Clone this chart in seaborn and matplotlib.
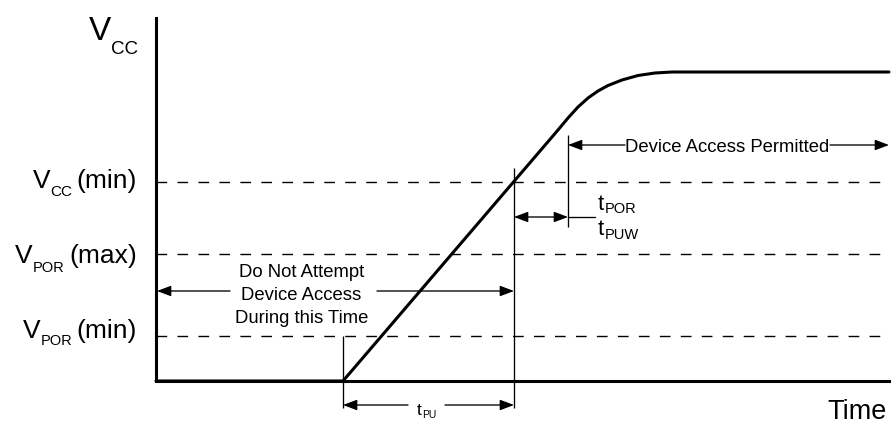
import matplotlib
matplotlib.use("Agg")
import matplotlib.pyplot as plt
import seaborn as sns
from matplotlib.patches import ArrowStyle
from matplotlib.transforms import IdentityTransform

# ---------------- data (arbitrary units: time ticks / voltage ticks) ----------------
time_pts = [0, 187, 402, 412, 422, 432, 442, 452, 466, 482, 499, 516, 733]
vcc_pts = [0, 0, 251, 263, 274, 283, 290, 295.5, 301, 305.5, 308, 309, 309]

level_names = ["Vcc(min)", "Vpor(max)", "Vpor(min)"]
level_values = [199, 127, 45]

t_ramp_start = 187   # Vcc begins to rise
t_pu_end = 358       # Vcc reaches Vcc(min)
t_por_end = 412      # end of tPOR / tPUW

x_max, y_max = 733, 363

# ---------------- figure ----------------
sns.set_theme(style="white")
plt.rcParams["font.family"] = ["Liberation Sans", "DejaVu Sans"]
INK = "black"

W, H = 891, 434
fig = plt.figure(figsize=(W / 100, H / 100), dpi=100)
fig.patch.set_facecolor("white")
ax = fig.add_axes([156 / W, (H - 381) / H, (889 - 156) / W, (381 - 18) / H])
ax.set_xlim(0, x_max)
ax.set_ylim(0, y_max)
ax.set_xticks([])
ax.set_yticks([])
ax.set_facecolor("white")
for s in ["top", "right"]:
    ax.spines[s].set_visible(False)
for s in ["left", "bottom"]:
    ax.spines[s].set_linewidth(2.2)
    ax.spines[s].set_color(INK)
    ax.spines[s].set_capstyle("projecting")

# dashed threshold levels
for lv in level_values:
    ax.axhline(lv, color=INK, lw=1.0, ls=(0, (7.7, 7.4)), zorder=1)

# Vcc trace
sns.lineplot(x=time_pts, y=vcc_pts, color=INK, lw=2.2, ax=ax, sort=False,
             estimator=None, zorder=3, clip_on=False)

# vertical markers
vl = dict(color=INK, lw=0.95, clip_on=False, zorder=2)
ax.vlines(t_ramp_start, -27, level_values[2], **vl)
ax.vlines(t_pu_end, -27, 213, **vl)
ax.vlines(t_por_end, 154, 246, **vl)

# arrows
def arrow(x_from, x_to, y, style="-|>"):
    ast = ArrowStyle(style, head_length=0.85, head_width=0.32)
    ax.annotate("", xy=(x_to, y), xytext=(x_from, y),
                arrowprops=dict(arrowstyle=ast, color=INK, lw=0.95,
                                shrinkA=0, shrinkB=0, mutation_scale=10),
                annotation_clip=False)

y_dna = 90
arrow(74, 1, y_dna)
arrow(221, t_pu_end, y_dna)

y_pu = -24
arrow(252, t_ramp_start, y_pu)
arrow(289, t_pu_end, y_pu)

y_por = 164
arrow(t_pu_end, t_por_end, y_por, "<|-|>")
ax.plot([t_por_end, 439], [y_por, y_por], color=INK, lw=0.95, clip_on=False)

y_dap = 236
arrow(469, t_por_end, y_dap)
arrow(674, x_max, y_dap)

# ---------------- text ----------------
renderer = fig.canvas.get_renderer()


def compound(x, y, parts, ha="left"):
    """parts: (string, fontsize, drop_px, gap_px_before); anchored at baseline."""
    X, Y = ax.transData.transform((x, y))
    widths = []
    for s, size, drop, gap in parts:
        t = fig.text(0, 0, s, fontsize=size)
        widths.append(t.get_window_extent(renderer).width)
        t.remove()
    total = sum(widths) + sum(p[3] for p in parts)
    if ha == "right":
        X -= total
    elif ha == "center":
        X -= total / 2
    for (s, size, drop, gap), w in zip(parts, widths):
        X += gap
        fig.text(X, Y - drop, s, fontsize=size, ha="left", va="baseline",
                 transform=IdentityTransform(), color=INK)
        X += w


compound(-18, 341, [("V", 24, 0, 0), ("CC", 13.5, 14, 0)], ha="right")
compound(-19, 193, [("V", 19, 0, 0), ("CC", 11, 8, 0), ("(min)", 19, 0, 4)], ha="right")
compound(-19, 118, [("V", 19, 0, 0), ("POR", 10.5, 9, 0), ("(max)", 19, 0, 5)], ha="right")
compound(-19, 43, [("V", 19, 0, 0), ("POR", 10.5, 7, 0), ("(min)", 19, 0, 4)], ha="right")

compound(270.5, -34, [("t", 12.5, 0, 0), ("PU", 7.5, 3, 0.5)], ha="center")
compound(442, 171, [("t", 16, 0, 0), ("POR", 10.5, 3, 0.5)])
compound(442, 146, [("t", 16, 0, 0), ("PUW", 10.5, 4, 0.5)])

for txt, yb in zip(["Do Not Attempt", "Device Access", "During this Time"], [104, 81, 58]):
    ax.text(145.5, yb, txt, fontsize=13.3, ha="center", va="baseline", color=INK)

ax.text(571.5, 229, "Device Access Permitted", fontsize=13.3, ha="center",
        va="baseline", color=INK)
ax.text(731, -38, "Time", fontsize=19.5, ha="right", va="baseline", color=INK,
        clip_on=False)

fig.savefig("out.png", dpi=100, facecolor="white")
